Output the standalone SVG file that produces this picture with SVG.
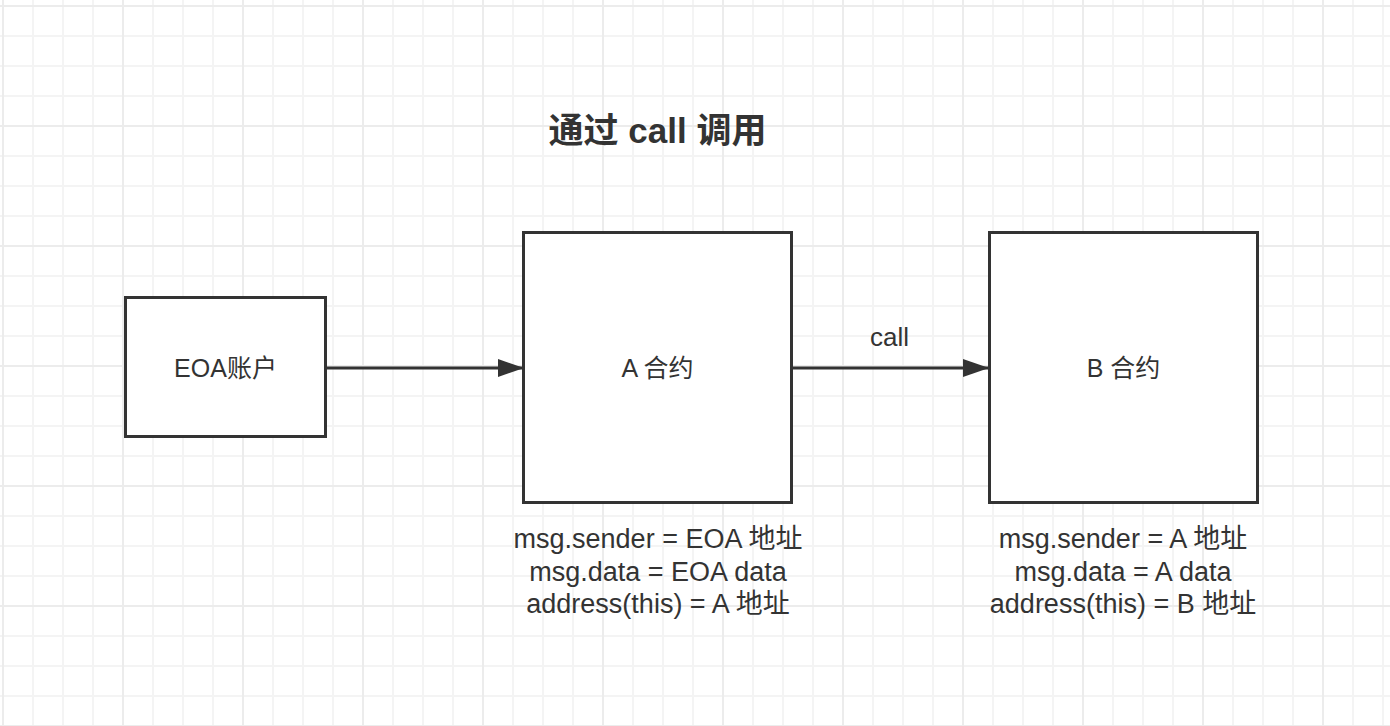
<svg xmlns="http://www.w3.org/2000/svg" width="1390" height="726" viewBox="0 0 1390 726">
  <defs>
    <pattern id="grid" patternUnits="userSpaceOnUse" x="-12" y="-9" width="120" height="120">
      <path d="M45 0V120M75 0V120M105 0V120M0 45H120M0 75H120M0 105H120" stroke="#f4f4f4" stroke-width="2" fill="none"/>
      <path d="M15 0V120M0 15H120" stroke="#ececec" stroke-width="2" fill="none"/>
    </pattern>
    <marker id="arrow" markerUnits="userSpaceOnUse" markerWidth="28" markerHeight="20" refX="26" refY="9" orient="auto">
      <path d="M0 0L26 9L0 18Z" fill="#333333"/>
    </marker>
    <style>
      .box { fill: #ffffff; stroke: #333333; stroke-width: 3; }
      .edge { stroke: #333333; stroke-width: 3; fill: none; }
      text { font-family: "Liberation Sans", "Noto Sans CJK SC", sans-serif; fill: #333333; text-anchor: middle; }
      .label { font-size: 25px; }
      .note { font-size: 27px; }
      .title { font-size: 35px; font-weight: bold; }
    </style>
  </defs>
  <rect width="1390" height="726" fill="#ffffff"/>
  <rect width="1390" height="726" fill="url(#grid)"/>

  <text id="title" class="title" x="657.5" y="143">通过 call 调用</text>

  <g id="connectors">
    <line class="edge" x1="326" y1="368" x2="524" y2="368" marker-end="url(#arrow)"/>
    <line class="edge" x1="792" y1="368" x2="989" y2="368" marker-end="url(#arrow)"/>
    <text class="note" style="font-size:26px" x="889.5" y="346">call</text>
  </g>

  <g id="eoa">
    <rect class="box" x="125.5" y="297.5" width="200" height="139"/>
    <text class="label" x="225.5" y="377">EOA账户</text>
  </g>

  <g id="contractA">
    <rect class="box" x="523.5" y="232.5" width="268" height="270"/>
    <text class="label" x="657.5" y="377">A 合约</text>
    <text class="note" x="658" y="548">msg.sender = EOA 地址</text>
    <text class="note" x="658" y="580.5">msg.data = EOA data</text>
    <text class="note" x="658" y="613">address(this) = A 地址</text>
  </g>

  <g id="contractB">
    <rect class="box" x="989.5" y="232.5" width="268" height="270"/>
    <text class="label" x="1123.5" y="377">B 合约</text>
    <text class="note" x="1123" y="548">msg.sender = A 地址</text>
    <text class="note" x="1123" y="580.5">msg.data = A data</text>
    <text class="note" x="1123" y="613">address(this) = B 地址</text>
  </g>
</svg>
